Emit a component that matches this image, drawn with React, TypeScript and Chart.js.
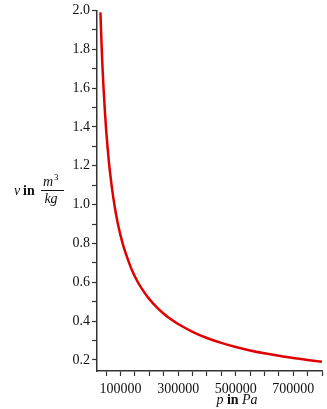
import React, { useEffect, useRef } from "react";
import { Chart, registerables } from "chart.js";

Chart.register(...registerables);

// pressure p in Pa
const pressures = [
  30000, 32000, 34000, 36000, 38000, 40000, 45000, 50000, 55000, 60000,
  65000, 70000, 80000, 90000, 100000, 110000, 120000, 140000, 160000, 180000,
  200000, 225000, 250000, 275000, 300000, 350000, 400000, 450000, 500000,
  550000, 600000, 650000, 700000, 750000, 800000,
];
// specific volume v in m^3/kg
const volumes = [
  1.99, 1.9, 1.82, 1.745, 1.68, 1.62, 1.49, 1.38, 1.29, 1.21,
  1.145, 1.085, 0.985, 0.905, 0.84, 0.785, 0.74, 0.66, 0.6, 0.553,
  0.513, 0.472, 0.438, 0.409, 0.385, 0.345, 0.313, 0.288, 0.267,
  0.249, 0.234, 0.221, 0.21, 0.2, 0.19,
];
const xTickValues = [
  50000, 100000, 150000, 200000, 250000, 300000, 350000, 400000, 450000,
  500000, 550000, 600000, 650000, 700000, 750000, 800000,
];
const xLabelled = [100000, 300000, 500000, 700000];
const yTickValues = [
  0.2, 0.3, 0.4, 0.5, 0.6, 0.7, 0.8, 0.9, 1.0, 1.1, 1.2, 1.3, 1.4, 1.5, 1.6,
  1.7, 1.8, 1.9, 2.0,
];
const yLabelled = [0.2, 0.4, 0.6, 0.8, 1.0, 1.2, 1.4, 1.6, 1.8, 2.0];

const SERIF = '"Liberation Serif", "Times New Roman", serif';
const AXIS = "#333333";

const titlesPlugin = {
  id: "axisTitles",
  afterDraw(chart: any) {
    const ctx = chart.ctx as CanvasRenderingContext2D;
    ctx.save();
    ctx.fillStyle = "#111";
    ctx.textBaseline = "alphabetic";
    ctx.textAlign = "left";
    // y title: v in m^3/kg
    ctx.font = `italic 14px ${SERIF}`;
    ctx.fillText("v", 14, 195);
    ctx.font = `bold 14px ${SERIF}`;
    ctx.fillText("in", 23, 195);
    ctx.font = `italic 14px ${SERIF}`;
    ctx.fillText("m", 43, 186);
    ctx.font = `9px ${SERIF}`;
    ctx.fillText("3", 54, 180);
    ctx.strokeStyle = "#111";
    ctx.lineWidth = 1;
    ctx.beginPath();
    ctx.moveTo(41, 190.5);
    ctx.lineTo(64, 190.5);
    ctx.stroke();
    ctx.font = `italic 14px ${SERIF}`;
    ctx.textAlign = "center";
    ctx.fillText("kg", 51, 203);
    // x title: p in Pa
    ctx.textAlign = "left";
    const parts: [string, string][] = [
      ["p", `italic 14px ${SERIF}`],
      [" in ", `bold 14px ${SERIF}`],
      ["Pa", `italic 14px ${SERIF}`],
    ];
    let total = 0;
    for (const [t, f] of parts) {
      ctx.font = f;
      total += ctx.measureText(t).width;
    }
    let x = 237 - total / 2;
    for (const [t, f] of parts) {
      ctx.font = f;
      ctx.fillText(t, x, 404);
      x += ctx.measureText(t).width;
    }
    ctx.restore();
  },
};

export default function App() {
  const ref = useRef<HTMLCanvasElement | null>(null);
  useEffect(() => {
    if (!ref.current) return;
    const chart = new Chart(ref.current, {
      type: "line",
      data: {
        datasets: [
          {
            data: pressures.map((p, i) => ({ x: p, y: volumes[i] })),
            borderColor: "#e00000",
            borderWidth: 2.5,
            pointRadius: 0,
            cubicInterpolationMode: "monotone",
            fill: false,
          },
        ],
      },
      options: {
        animation: false,
        responsive: false,
        events: [],
        layout: { padding: { top: 10, right: 0, left: 0, bottom: 0 } },
        plugins: { legend: { display: false }, tooltip: { enabled: false } },
        scales: {
          x: {
            type: "linear",
            min: 18000,
            max: 800000,
            border: { display: true, color: AXIS, width: 1.5 },
            grid: {
              display: true,
              drawOnChartArea: false,
              drawTicks: true,
              tickLength: 5,
              tickColor: AXIS,
              tickWidth: 1.2,
            },
            afterBuildTicks: (s: any) => {
              s.ticks = xTickValues.map((v) => ({ value: v }));
            },
            ticks: {
              autoSkip: false,
              maxRotation: 0,
              minRotation: 0,
              padding: 5,
              color: "#111",
              font: { family: SERIF, size: 14 },
              callback: (v: any) => (xLabelled.includes(Number(v)) ? String(v) : ""),
            },
            afterFit: (s: any) => {
              s.height = 38;
            },
          },
          y: {
            type: "linear",
            min: 0.143,
            max: 2.0,
            border: { display: true, color: AXIS, width: 1.5 },
            grid: {
              display: true,
              drawOnChartArea: false,
              drawTicks: true,
              tickLength: 5,
              tickColor: AXIS,
              tickWidth: 1.2,
            },
            afterBuildTicks: (s: any) => {
              s.ticks = yTickValues.map((v) => ({ value: v }));
            },
            ticks: {
              autoSkip: false,
              padding: 2,
              color: "#111",
              font: { family: SERIF, size: 14 },
              callback: (v: any) => {
                const n = Number(v);
                return yLabelled.some((l) => Math.abs(l - n) < 1e-6) ? n.toFixed(1) : "";
              },
            },
            afterFit: (s: any) => {
              s.width = 97;
            },
          },
        },
      },
      plugins: [titlesPlugin],
    } as any);
    return () => chart.destroy();
  }, []);
  return (
    <div style={{ position: "absolute", left: 0, top: 0, width: 327, height: 409, background: "#fff" }}>
      <canvas ref={ref} width={327} height={409} style={{ width: 327, height: 409, display: "block" }} />
    </div>
  );
}
